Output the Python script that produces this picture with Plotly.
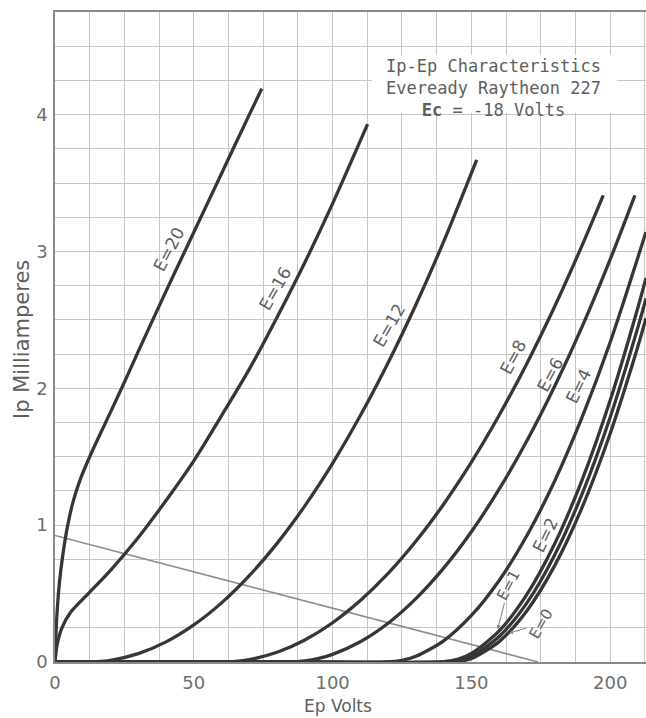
import plotly.graph_objects as go

# ---- data (Ep volts, Ip milliamperes) ----
E20_V = [0, 0.3, 0.8, 1.6, 2.8, 4.4, 6.5, 9.2, 12.5, 18, 24, 30, 40, 50, 60, 70, 74.5]
E20_I = [0, 0.18, 0.38, 0.58, 0.78, 0.98, 1.17, 1.34, 1.5, 1.74, 2.0, 2.27, 2.71, 3.14, 3.57, 4.0, 4.19]

E16_V = [0, 0.8, 2.5, 5.5, 12, 20, 30, 40, 50, 60, 70, 80, 90, 100, 112.6]
E16_I = [0, 0.13, 0.25, 0.36, 0.5, 0.67, 0.91, 1.18, 1.47, 1.80, 2.14, 2.52, 2.92, 3.35, 3.93]

E12_V = [0, 8, 15, 20, 30, 40, 50, 60, 70, 80, 90, 100, 110, 120, 130, 140, 151.9]
E12_I = [0, 0, 0.002, 0.012, 0.061, 0.147, 0.271, 0.432, 0.631, 0.867, 1.141, 1.452, 1.801, 2.187, 2.611, 3.072, 3.67]

E8_V = [0, 40, 60, 65, 70, 80, 90, 100, 110, 120, 130, 140, 150, 160, 170, 180, 190, 197.5]
E8_I = [0, 0, 0, 0.004, 0.017, 0.071, 0.161, 0.287, 0.449, 0.647, 0.882, 1.153, 1.46, 1.803, 2.182, 2.598, 3.05, 3.41]

E6_V = [0, 60, 84, 90, 95, 100, 110, 120, 130, 140, 150, 160, 170, 180, 190, 200, 208.9]
E6_I = [0, 0, 0, 0.008, 0.026, 0.056, 0.148, 0.283, 0.463, 0.686, 0.952, 1.263, 1.617, 2.015, 2.456, 2.942, 3.41]

E4_V = [0, 80, 119, 125, 130, 140, 150, 160, 170, 180, 190, 200, 212.9]
E4_I = [0, 0, 0, 0.012, 0.042, 0.155, 0.34, 0.596, 0.924, 1.323, 1.795, 2.337, 3.143]

E2_V = [0, 80, 139, 145, 150, 160, 170, 180, 190, 200, 210, 212.9]
E2_I = [0, 0, 0, 0.019, 0.062, 0.227, 0.494, 0.864, 1.337, 1.913, 2.591, 2.807]

E1_V = [0, 80, 141, 145, 150, 160, 170, 180, 190, 200, 210, 212.9]
E1_I = [0, 0, 0, 0.008, 0.042, 0.186, 0.432, 0.782, 1.234, 1.789, 2.447, 2.657]

E0_V = [0, 80, 143, 148, 150, 160, 170, 180, 190, 200, 210, 212.9]
E0_I = [0, 0, 0, 0.013, 0.025, 0.149, 0.375, 0.704, 1.135, 1.67, 2.307, 2.512]

LOAD_V = [0, 174]
LOAD_I = [0.925, 0]

CURVES = [
    ("E=20", E20_V, E20_I),
    ("E=16", E16_V, E16_I),
    ("E=12", E12_V, E12_I),
    ("E=8", E8_V, E8_I),
    ("E=6", E6_V, E6_I),
    ("E=4", E4_V, E4_I),
    ("E=2", E2_V, E2_I),
    ("E=1", E1_V, E1_I),
    ("E=0", E0_V, E0_I),
]

# curve labels: text, volts, mA, angle
LABELS = [
    ("E=20", 41.0, 3.02, -62),
    ("E=16", 79.5, 2.73, -60),
    ("E=12", 120.5, 2.46, -60),
    ("E=8", 165.0, 2.23, -62),
    ("E=6", 178.2, 2.10, -62),
    ("E=4", 188.5, 2.02, -64),
    ("E=2", 176.5, 0.93, -64),
]

TITLE_LINES = ["Ip-Ep Characteristics", "Eveready Raytheon 227", "<b>Ec</b> = -18 Volts"]

FONT = "DejaVu Sans"
TXT = "#5e5e5e"

fig = go.Figure()

fig.add_trace(go.Scatter(x=LOAD_V, y=LOAD_I, mode="lines",
                         line=dict(color="#8e8e8e", width=1.6),
                         hoverinfo="skip", showlegend=False))

for name, v, i in CURVES:
    fig.add_trace(go.Scatter(x=v, y=i, mode="lines", name=name,
                             line=dict(color="#363636", width=3.3, shape="spline", smoothing=0.8),
                             hoverinfo="skip", showlegend=False))

for txt, x, y, ang in LABELS:
    fig.add_annotation(x=x, y=y, text=txt, showarrow=False, textangle=ang,
                       font=dict(family=FONT, size=17, color=TXT))

# E=1 and E=0 labels with small arrows pointing at their curves
fig.add_annotation(x=159.5, y=0.24, ax=163.5, ay=0.56, axref="x", ayref="y",
                   text="E=1", textangle=-62, showarrow=True, arrowhead=2, arrowsize=0.8,
                   arrowwidth=1, arrowcolor="#808080",
                   font=dict(family=FONT, size=15, color=TXT))
fig.add_annotation(x=163.5, y=0.21, ax=175.0, ay=0.28, axref="x", ayref="y",
                   text="E=0", textangle=-60, showarrow=True, arrowhead=2, arrowsize=0.8,
                   arrowwidth=1, arrowcolor="#808080",
                   font=dict(family=FONT, size=15, color=TXT))

# white block behind the title text
fig.add_shape(type="rect", xref="x", yref="y", x0=114.2, x1=202.4, y0=4.014, y1=4.438,
              fillcolor="white", line=dict(width=0), layer="between")

fig.add_annotation(x=158.1, y=4.197, xanchor="center", yanchor="middle",
                   text="<br>".join(TITLE_LINES), showarrow=False, align="center",
                   font=dict(family="DejaVu Sans Mono", size=17, color=TXT))


# page-pixel helpers (plot area spans x 55..646, y 12..662)
def px_x(p):
    return (p - 55) / 591.0


def px_y(p):
    return (662 - p) / 650.0


# axis titles
fig.add_annotation(xref="paper", yref="paper", x=px_x(338), y=px_y(718),
                   xanchor="center", yanchor="bottom", text="Ep Volts", showarrow=False,
                   font=dict(family=FONT, size=17, color=TXT))
fig.add_annotation(xref="paper", yref="paper", x=px_x(22), y=px_y(340),
                   xanchor="center", yanchor="middle", text="Ip Milliamperes", textangle=-90,
                   showarrow=False, font=dict(family=FONT, size=21, color=TXT))

GRID = "#c6c6c6"
fig.update_layout(
    width=646, height=718,
    margin=dict(l=55, r=0, t=12, b=56),
    paper_bgcolor="white", plot_bgcolor="white",
    xaxis=dict(range=[0, 212.9], tick0=0, dtick=50, showgrid=True, gridcolor=GRID, gridwidth=1.2,
               minor=dict(dtick=12.5, tick0=0, showgrid=True, gridcolor=GRID, gridwidth=1.2),
               showline=True, linecolor="#8a8a8a", linewidth=1.5, mirror=True,
               zeroline=False, ticks="", ticklabelstandoff=4,
               tickfont=dict(family=FONT, size=18, color="#6e6e6e")),
    yaxis=dict(range=[0, 4.75], tick0=0, dtick=1, showgrid=True, gridcolor=GRID, gridwidth=1.2,
               minor=dict(dtick=0.25, tick0=0, showgrid=True, gridcolor=GRID, gridwidth=1.2),
               showline=True, linecolor="#8a8a8a", linewidth=1.5,
               zeroline=False, ticks="", ticklen=0, ticklabelstandoff=2,
               tickfont=dict(family=FONT, size=18, color="#6e6e6e")),
)

fig.write_html("out.html", config={"displayModeBar": False},
               post_script="document.body.style.margin='0px';document.body.style.overflow='hidden';")
